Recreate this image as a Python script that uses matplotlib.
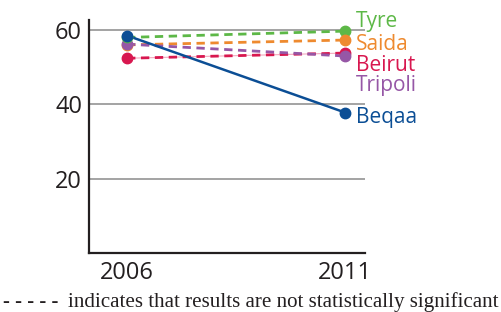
import matplotlib
matplotlib.use("Agg")
import matplotlib.pyplot as plt

# data
years = [2006, 2011]
regions = ["Tyre", "Saida", "Beirut", "Tripoli", "Beqaa"]
values = {
    "Tyre": [58.0, 59.7],
    "Saida": [56.0, 57.3],
    "Beirut": [52.4, 53.8],
    "Tripoli": [56.2, 53.0],
    "Beqaa": [58.5, 37.8],
}
significant = {"Tyre": False, "Saida": False, "Beirut": False,
               "Tripoli": False, "Beqaa": True}
colors = {"Tyre": "#5db847", "Saida": "#ee8a2f", "Beirut": "#d8174f",
          "Tripoli": "#9657a6", "Beqaa": "#0b4e95"}
label_y = {"Tyre": 62.2, "Saida": 56.0, "Beirut": 50.5,
           "Tripoli": 45.0, "Beqaa": 36.4}
yticks = [20, 40, 60]

plt.rcParams['font.family'] = ['Open Sans', 'DejaVu Sans']

fig = plt.figure(figsize=(5.02, 3.12), dpi=100)
ax = fig.add_axes([0.1773, 0.189, 0.5498, 0.747])

for y in yticks:
    ax.axhline(y, color="#8a8a8a", lw=1.1, zorder=1)

for name in regions:
    c = colors[name]
    if significant[name]:
        ax.plot(years, values[name], color=c, lw=1.8, zorder=4)
    else:
        if name == "Beirut":
            ax.plot(years, values[name], color="#f3a9bf", lw=0.8, zorder=2)
        ax.plot(years, values[name], color=c, lw=2.0, ls=(0, (3, 2)), zorder=3)

# markers drawn in order so overlaps look like the original
for name in ["Saida", "Tripoli", "Beirut", "Tyre", "Beqaa"]:
    ax.plot(years[0], values[name][0], "o", color=colors[name], ms=7.5, zorder=5)
for name in ["Tyre", "Saida", "Beirut", "Tripoli", "Beqaa"]:
    ax.plot(years[1], values[name][1], "o", color=colors[name], ms=7.5, zorder=5)

for name in regions:
    ax.annotate(name, (years[1], label_y[name]), xytext=(8, 0),
                textcoords="offset points", color=colors[name],
                fontsize=15, va="center", ha="left", annotation_clip=False)

ax.set_xlim(2006 - 0.873, 2011 + 0.456)
ax.set_ylim(0, 62.7)
ax.set_xticks(years)
ax.set_xticklabels([str(y) for y in years])
ax.set_yticks(yticks)
ax.tick_params(length=0, labelsize=17, colors="#231f20", pad=5)
ax.tick_params(axis="x", pad=6)

for s in ["top", "right"]:
    ax.spines[s].set_visible(False)
ax.spines["left"].set_linewidth(1.6)
ax.spines["bottom"].set_linewidth(1.6)
ax.spines["left"].set_color("#231f20")
ax.spines["bottom"].set_color("#231f20")

fig.text(0.006, 0.032, "- - - - -", fontsize=15, fontweight="bold",
         family=["Liberation Serif", "DejaVu Serif"], va="center", color="#231f20")
fig.text(0.136, 0.032, "indicates that results are not statistically significant",
         fontsize=15.1, family=["Liberation Serif", "DejaVu Serif"],
         va="center", color="#231f20")

fig.savefig("out.png", dpi=100)
